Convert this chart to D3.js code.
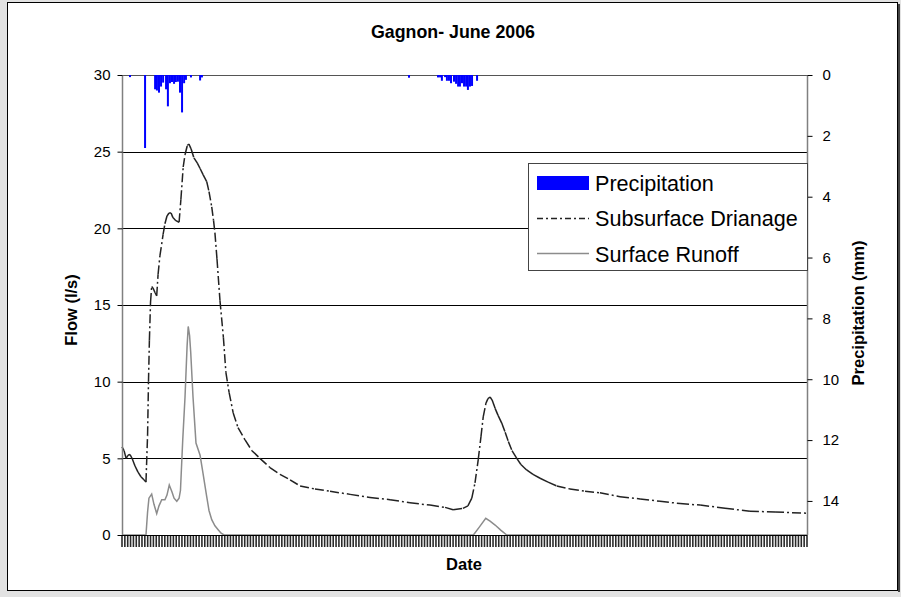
<!DOCTYPE html>
<html><head><meta charset="utf-8">
<script src="https://cdn.jsdelivr.net/npm/d3@7"></script>
<style>
html,body{margin:0;padding:0;background:#e2e2e2;}
svg{display:block;font-family:"Liberation Sans",Arial,sans-serif;}
</style></head>
<body>
<svg id="chart" width="901" height="597"></svg>
<script>
// ---- data (days since 1 June 2006) ----
const drainDays = [0,0.09,0.18,0.26,0.35,0.44,0.57,0.70,0.83,0.96,1.05,1.12,1.16,1.20,1.25,1.30,1.36,1.45,1.52,1.58,1.66,1.80,1.88,1.97,2.06,2.15,2.23,2.36,2.50,2.58,2.68,2.76,2.86,2.93,3.02,3.15,3.30,3.42,3.55,3.71,3.81,3.93,4.01,4.07,4.16,4.29,4.44,4.55,4.69,4.87,5.08,5.39,5.69,6.04,6.48,6.92,7.36,7.80,8.45,9.11,9.99,10.86,11.74,12.61,13.49,14.15,14.50,14.93,15.15,15.32,15.46,15.60,15.72,15.82,15.94,16.03,16.12,16.21,16.34,16.47,16.63,16.78,16.92,17.08,17.29,17.47,17.72,18.00,18.31,18.66,19.04,19.62,20.28,20.93,21.81,22.69,23.56,24.44,25.32,26.41,27.50,28.60,30.0];
const drainFlow = [5.75,5.5,5.0,5.2,5.25,5.0,4.5,4.1,3.8,3.6,3.45,6.5,10.0,12.7,15.2,16.2,16.1,15.8,15.6,17.0,18.2,19.6,20.3,20.8,21.0,21.0,20.7,20.5,20.4,21.9,24.0,24.8,25.4,25.5,25.2,24.6,24.25,23.9,23.5,23.05,22.4,21.4,20.5,19.7,18.0,15.3,12.9,10.6,9.3,7.96,7.0,6.2,5.5,5.0,4.4,3.95,3.6,3.2,3.0,2.85,2.65,2.45,2.3,2.1,1.95,1.8,1.65,1.74,1.9,2.4,3.4,4.9,6.4,7.7,8.6,8.9,9.0,8.8,8.26,7.8,7.3,6.7,6.1,5.5,5.0,4.6,4.24,3.95,3.7,3.45,3.2,3.0,2.85,2.75,2.5,2.35,2.2,2.05,1.95,1.75,1.55,1.5,1.42];

const runoffDays = [0,1.05,1.12,1.18,1.30,1.40,1.52,1.62,1.74,1.88,1.97,2.07,2.19,2.28,2.40,2.50,2.56,2.66,2.76,2.85,2.90,2.96,3.01,3.11,3.24,3.42,3.55,3.71,3.81,3.93,4.07,4.22,4.34,4.47,15.39,15.64,15.93,16.12,16.34,16.60,16.85,30.0];
const runoffFlow = [0,0,1.5,2.4,2.67,2.0,1.4,1.9,2.3,2.3,2.6,3.26,2.8,2.4,2.2,2.4,2.9,6.2,9.0,12.3,13.6,13.0,11.9,9.0,6.0,5.2,4.0,2.5,1.6,1.0,0.6,0.33,0.12,0,0,0.5,1.09,0.9,0.65,0.3,0,0];

const precipDays = [0.35,1.01,1.45,1.53,1.62,1.71,1.80,1.93,2.01,2.10,2.19,2.28,2.36,2.45,2.54,2.63,2.72,2.80,3.02,3.42,3.50,12.57,13.84,13.93,14.01,14.15,14.23,14.32,14.41,14.54,14.63,14.72,14.80,14.89,14.98,15.07,15.15,15.24,15.33,15.55];
const precipMm = [0.07,2.4,0.47,0.51,0.58,0.38,0.25,0.47,1.03,0.27,0.23,0.29,0.23,0.22,0.58,1.23,0.27,0.16,0.08,0.18,0.08,0.09,0.08,0.08,0.19,0.07,0.19,0.19,0.27,0.22,0.29,0.38,0.38,0.27,0.38,0.38,0.49,0.38,0.36,0.19];

const flowTicks = [0,5,10,15,20,25,30];
const precipTicks = [0,2,4,6,8,10,12,14];
const legendLabels = ["Precipitation","Subsurface Drianage","Surface Runoff"];

// ---- layout ----
const svg = d3.select("#chart");
const L = 122, R = 807, T = 75, B = 535;
const DASH = "9,3,2,3";

svg.append("rect").attr("x",7.5).attr("y",2.5).attr("width",890).attr("height",588)
  .attr("fill","#fff").attr("stroke","#000").attr("stroke-width",1);
svg.append("line").attr("x1",899).attr("x2",899).attr("y1",4).attr("y2",592).attr("stroke","#444").attr("stroke-width",2);

const x = d3.scaleLinear().domain([0,30]).range([L,R]);
const yF = d3.scaleLinear().domain([0,30]).range([B,T]);
const yP = d3.scaleLinear().domain([0,15.12]).range([T,B]);

// gridlines
svg.append("g").selectAll("line").data(flowTicks.filter(d=>d>0)).join("line")
  .attr("x1",L).attr("x2",R).attr("y1",d=>Math.round(yF(d))+0.5).attr("y2",d=>Math.round(yF(d))+0.5)
  .attr("stroke",d=>d===30?"#555":"#000").attr("stroke-width",1);

// x-axis dense tick marks
const xTickVals = d3.range(0,30.0001,0.125);
svg.append("g").selectAll("line").data(xTickVals).join("line")
  .attr("x1",d=>x(d)).attr("x2",d=>x(d)).attr("y1",535).attr("y2",547)
  .attr("stroke","#2a2a2a").attr("stroke-width",1.6);

// precipitation bars (secondary axis, hanging from top)
svg.append("g").selectAll("rect").data(precipDays.map((d,i)=>({d,v:precipMm[i]}))).join("rect")
  .attr("x",p=>x(p.d)-1).attr("width",2).attr("y",T).attr("height",p=>yP(p.v)-T)
  .attr("fill","#0000ff");

// surface runoff
const line = d3.line().x(d=>x(d[0])).y(d=>yF(d[1]));
svg.append("path").datum(runoffDays.map((d,i)=>[d,runoffFlow[i]]))
  .attr("d",line).attr("fill","none").attr("stroke","#8c8c8c").attr("stroke-width",1.5);

// subsurface drainage: dash pattern restarts on each segment
const segs = d3.pairs(drainDays.map((d,i)=>[d,drainFlow[i]]));
svg.append("g").selectAll("path").data(segs).join("path")
  .attr("d",s=>line(s)).attr("fill","none").attr("stroke","#222").attr("stroke-width",1.5)
  .attr("stroke-linecap","butt").attr("stroke-dasharray",DASH);

// axes lines
svg.append("line").attr("x1",L+0.5).attr("x2",L+0.5).attr("y1",T).attr("y2",B).attr("stroke","#808080").attr("stroke-width",1.5);
svg.append("line").attr("x1",R+0.5).attr("x2",R+0.5).attr("y1",T).attr("y2",B).attr("stroke","#808080").attr("stroke-width",1.5);
svg.append("line").attr("x1",L).attr("x2",R).attr("y1",B+0.5).attr("y2",B+0.5).attr("stroke","#000").attr("stroke-width",1);

// left axis
const gl = svg.append("g").attr("transform",`translate(${L+0.5},0)`)
  .call(d3.axisLeft(yF).tickValues(flowTicks).tickSize(5).tickPadding(7).tickFormat(d3.format("d")));
gl.select(".domain").remove();
gl.selectAll("line").attr("stroke","#000");
gl.selectAll("text").attr("font-size",15).attr("font-family","Liberation Sans, Arial").attr("fill","#000");

// right axis
const gr = svg.append("g").attr("transform",`translate(${R+0.5},0)`)
  .call(d3.axisRight(yP).tickValues(precipTicks).tickSize(5).tickPadding(10).tickFormat(d3.format("d")));
gr.select(".domain").remove();
gr.selectAll("line").attr("stroke","#000");
gr.selectAll("text").attr("font-size",15).attr("font-family","Liberation Sans, Arial").attr("fill","#000");

// titles
svg.append("text").attr("x",453).attr("y",38).attr("text-anchor","middle")
  .attr("font-size",17.8).attr("font-weight","bold").text("Gagnon- June 2006");
svg.append("text").attr("transform","translate(77,310) rotate(-90)").attr("text-anchor","middle")
  .attr("font-size",16.5).attr("font-weight","bold").text("Flow (l/s)");
svg.append("text").attr("transform","translate(864,313) rotate(-90)").attr("text-anchor","middle")
  .attr("font-size",16.5).attr("font-weight","bold").text("Precipitation (mm)");
svg.append("text").attr("x",464).attr("y",570).attr("text-anchor","middle")
  .attr("font-size",16.5).attr("font-weight","bold").text("Date");

// legend
const lg = svg.append("g");
lg.append("rect").attr("x",528.5).attr("y",163.5).attr("width",279).attr("height",107)
  .attr("fill","#fff").attr("stroke","#444").attr("stroke-width",1);
lg.append("rect").attr("x",537).attr("y",176).attr("width",52).attr("height",14).attr("fill","#0000ff");
lg.append("line").attr("x1",537).attr("x2",589).attr("y1",218.5).attr("y2",218.5)
  .attr("stroke","#222").attr("stroke-width",1.5).attr("stroke-dasharray","6,3,2,3");
lg.append("line").attr("x1",537).attr("x2",589).attr("y1",253.5).attr("y2",253.5)
  .attr("stroke","#8c8c8c").attr("stroke-width",1.5);
lg.selectAll("text.lab").data(legendLabels).join("text").attr("class","lab")
  .attr("x",595).attr("y",(d,i)=>190.5+i*35.5).attr("font-size",21.6).attr("fill","#000").text(d=>d);
</script>
</body></html>
